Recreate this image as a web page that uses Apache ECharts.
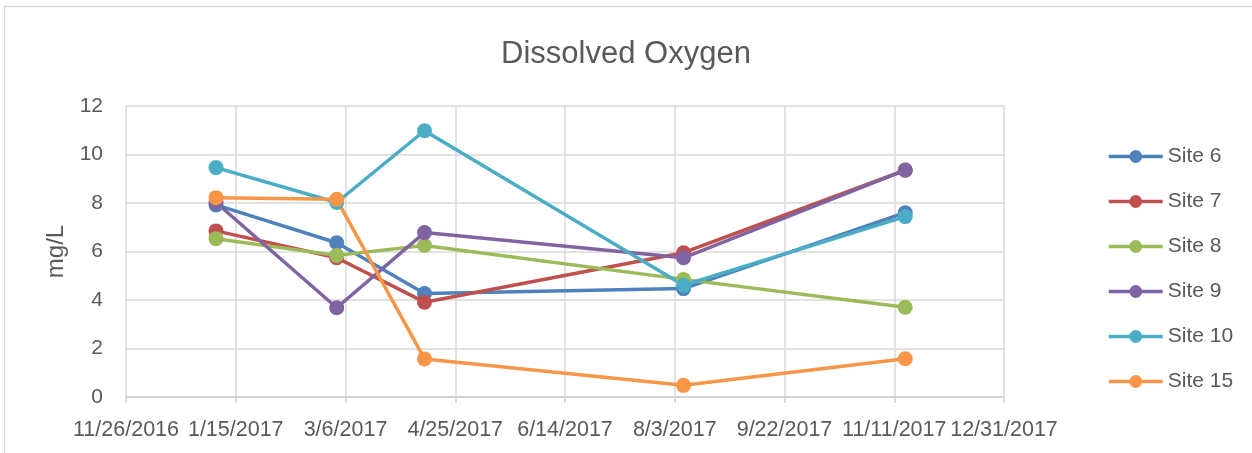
<!DOCTYPE html>
<html>
<head>
<meta charset="utf-8">
<script src="https://cdn.jsdelivr.net/npm/echarts@6/dist/echarts.min.js"></script>
<style>
  html, body { margin: 0; padding: 0; background: #fff; }
  #chart { width: 1252px; height: 453px; }
</style>
</head>
<body>
<div id="chart"></div>
<script>
// ---- Data ----
const sampleDates = ['2017-01-06', '2017-03-02', '2017-04-11', '2017-08-07', '2017-11-16'];
const seriesNames = ['Site 6', 'Site 7', 'Site 8', 'Site 9', 'Site 10', 'Site 15'];
const site6  = [7.92, 6.36, 4.27, 4.47, 7.60];
const site7  = [6.85, 5.74, 3.91, 5.95, 9.35];
const site8  = [6.53, 5.84, 6.25, 4.85, 3.70];
const site9  = [8.02, 3.68, 6.78, 5.74, 9.36];
const site10 = [9.46, 8.02, 10.98, 4.61, 7.44];
const site15 = [8.22, 8.15, 1.57, 0.48, 1.58];
const axisStartDate = '2016-11-26';
const axisEndDate = '2017-12-31';
const xTickDays = 50;
const yTicks = [0, 2, 4, 6, 8, 10, 12];

const colors = ['#4F81BD', '#C0504D', '#9BBB59', '#8064A2', '#4BACC6', '#F79646'];
const allValues = [site6, site7, site8, site9, site10, site15];

const DAY = 86400000;
function toUTC(s) { const p = s.split('-').map(Number); return Date.UTC(p[0], p[1] - 1, p[2]); }
const base = toUTC(axisStartDate);
const dayOffset = s => Math.round((toUTC(s) - base) / DAY);
function fmt(v) {
  const d = new Date(base + v * DAY);
  return (d.getUTCMonth() + 1) + '/' + d.getUTCDate() + '/' + d.getUTCFullYear();
}

const FONT = 'Liberation Sans';
const TXT = '#595959';

const chart = echarts.init(document.getElementById('chart'), null, { renderer: 'canvas' });
chart.setOption({
  backgroundColor: '#fff',
  animation: false,
  color: colors,
  title: {
    text: 'Dissolved Oxygen',
    left: 'center',
    top: 34,
    textStyle: { fontFamily: FONT, fontSize: 31, fontWeight: 'normal', color: TXT }
  },
  graphic: [{
    type: 'rect',
    shape: { x: 4.5, y: 6.5, width: 1300, height: 500 },
    style: { fill: 'none', stroke: '#d9d9d9', lineWidth: 1.5 },
    silent: true
  }],
  legend: {
    orient: 'vertical',
    left: 1102,
    top: 141,
    itemWidth: 54,
    itemHeight: 16,
    itemGap: 24,
    lineStyle: { width: 3.5 },
    textStyle: { fontFamily: FONT, fontSize: 21, color: TXT },
    data: seriesNames
  },
  grid: { left: 126, right: 248, top: 106, bottom: 56, outerBoundsMode: 'none' },
  xAxis: {
    type: 'value',
    min: 0,
    max: dayOffset(axisEndDate),
    interval: xTickDays,
    axisLine: { show: true, lineStyle: { color: '#d0d0d0', width: 1.5 } },
    axisTick: { show: true, length: 6, lineStyle: { color: '#d0d0d0', width: 1.5 } },
    splitLine: { show: true, lineStyle: { color: '#d9d9d9', width: 1.5 } },
    axisLabel: {
      interval: 0, showMinLabel: true, showMaxLabel: true, hideOverlap: false,
      margin: 22,
      fontFamily: FONT, fontSize: 21.5, color: TXT,
      formatter: v => fmt(v)
    }
  },
  yAxis: {
    type: 'value',
    min: yTicks[0],
    max: yTicks[yTicks.length - 1],
    interval: yTicks[1] - yTicks[0],
    name: 'mg/L',
    nameLocation: 'middle',
    nameGap: 56,
    nameTextStyle: { fontFamily: FONT, fontSize: 24, color: TXT },
    axisLine: { show: false },
    axisTick: { show: false },
    splitLine: { show: true, lineStyle: { color: '#d9d9d9', width: 1.5 } },
    axisLabel: { margin: 23, fontFamily: FONT, fontSize: 21, color: TXT }
  },
  series: seriesNames.map((name, i) => ({
    name: name,
    type: 'line',
    symbol: 'circle',
    symbolSize: 15,
    showSymbol: true,
    lineStyle: { width: 3.5, color: colors[i] },
    itemStyle: { color: colors[i] },
    data: sampleDates.map((d, j) => [dayOffset(d), allValues[i][j]])
  }))
});
</script>
</body>
</html>
